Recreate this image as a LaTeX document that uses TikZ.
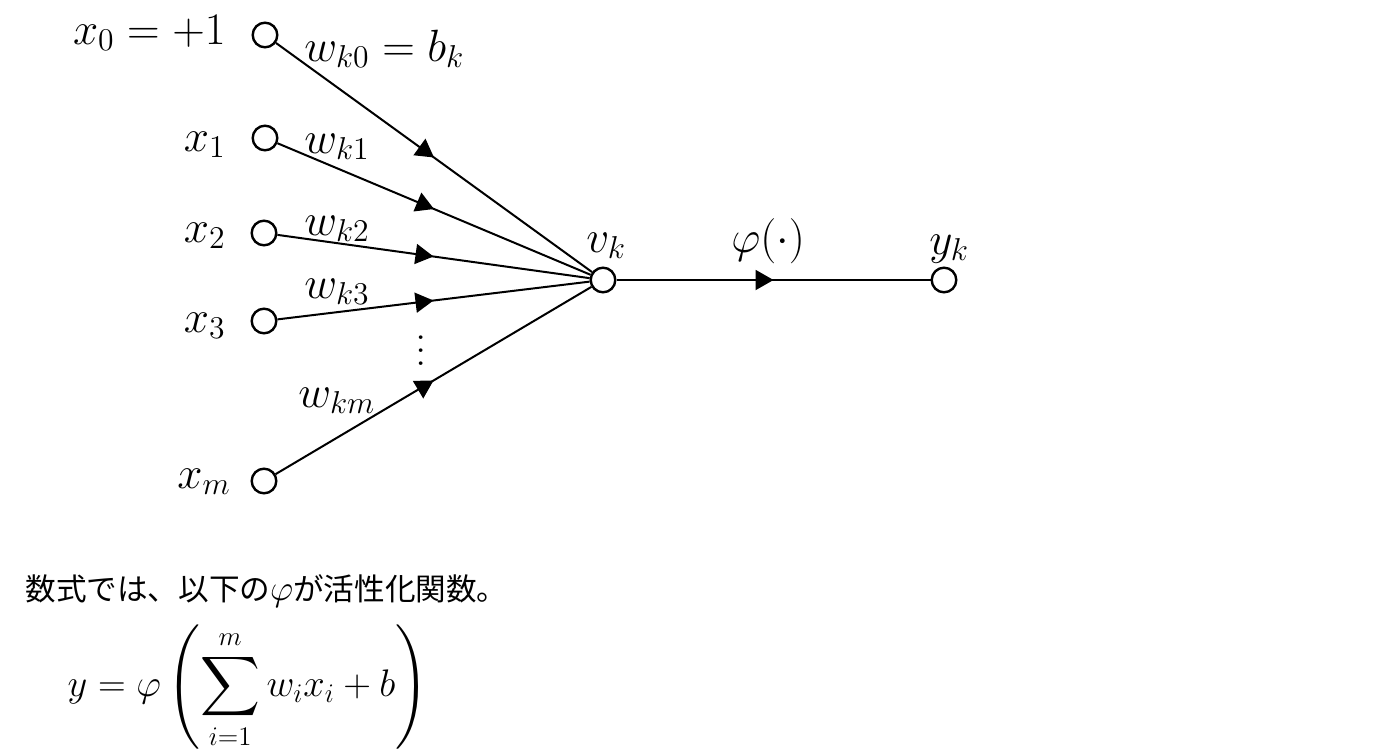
\RequirePackage{fix-cm}
\documentclass[tikz,border=0pt]{standalone}
\usepackage{amsmath}
\usepackage{fontspec}
\newfontfamily\jp{Noto Sans CJK JP}
\usetikzlibrary{arrows.meta,decorations.markings}
\newcommand{\mydots}{\vbox{\baselineskip=6.5pt\lineskiplimit=-10pt\hbox{.}\hbox{.}\hbox{.}}}
\begin{document}
\begin{tikzpicture}[x=0.5pt,y=-0.5pt,
  neuron/.style={circle,draw,line width=1.2pt,minimum size=12.3pt,inner sep=0pt,fill=white},
  lbl/.style={inner sep=0pt,font=\fontsize{22.6}{27}\selectfont},
  conn/.style={line width=1pt,postaction={decorate},
    decoration={markings,mark=at position 0.5 with {\arrow{Triangle[length=9pt,width=10pt]}}}}
]
\useasboundingbox (0,0) rectangle (1400,751);

\node[neuron] (x0) at (265,35) {};
\node[neuron] (x1) at (265,138) {};
\node[neuron] (x2) at (264,233) {};
\node[neuron] (x3) at (264,321) {};
\node[neuron] (xm) at (264,481) {};
\node[neuron] (vk) at (603,280) {};
\node[neuron] (yk) at (944,280) {};

\draw[conn] (x0) -- (vk);
\draw[conn] (x1) -- (vk);
\draw[conn] (x2) -- (vk);
\draw[conn] (x3) -- (vk);
\draw[conn] (xm) -- (vk);
\draw[conn] (vk) -- (yk);

\node[lbl,anchor=base east] (lx0) at (226,44) {$x_0=+1$};
\node[lbl,anchor=base east] (lx1) at (226,151) {$x_1$};
\node[lbl,anchor=base east] (lx2) at (226,242) {$x_2$};
\node[lbl,anchor=base east] (lx3) at (226,332) {$x_3$};
\node[lbl,anchor=base east] (lxm) at (231,488) {$x_m$};

\node[lbl,anchor=base west] (w0) at (304,61) {$w_{k0}=b_k$};
\node[lbl,anchor=base west] (w1) at (304,153) {$w_{k1}$};
\node[lbl,anchor=base west] (w2) at (304,235) {$w_{k2}$};
\node[lbl,anchor=base west] (w3) at (304,298) {$w_{k3}$};
\node[lbl,anchor=base west] (wm) at (298,407) {$w_{km}$};
\node[lbl,anchor=base] (dots) at (421,365) {\mydots};

\node[lbl,anchor=base west] (lvk) at (586,252) {$v_k$};
\node[lbl,anchor=base west] (phi) at (731,252) {$\varphi(\cdot)$};
\node[lbl,anchor=base west] (lyk) at (929,254) {$y_k$};

\node[inner sep=0pt,anchor=base west,font=\fontsize{15.3}{18}\jp] (jp) at (25,600) {数式では、以下の{\fontsize{18}{18}\selectfont$\varphi$}が活性化関数。};
\node[inner sep=0pt,font=\fontsize{19.2}{22}\selectfont] (eq) at (248,687)
  {$\displaystyle y=\varphi\left(\sum_{i=1}^{m} w_i x_i + b\right)$};
\end{tikzpicture}
\end{document}
